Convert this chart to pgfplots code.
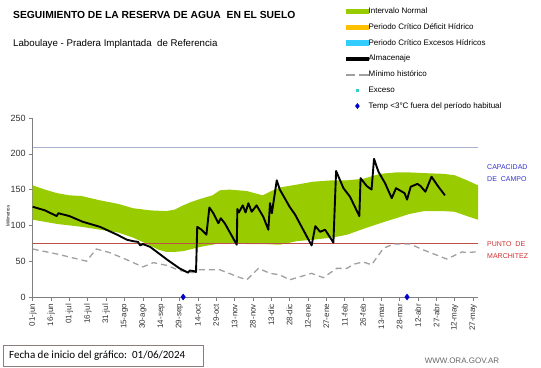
\documentclass[border=0pt]{standalone}
\usepackage{pgfplots}
\pgfplotsset{compat=1.18}
\usepackage{fontspec}
\setmainfont{Liberation Sans}
\newfontfamily\calibri{Carlito}
\definecolor{bandgreen}{HTML}{99CC00}
\definecolor{deficit}{HTML}{FFC000}
\definecolor{excesos}{HTML}{33CCFF}
\definecolor{capline}{HTML}{A4B4CE}
\definecolor{pmline}{HTML}{C0504D}
\definecolor{mingray}{HTML}{A0A0A0}
\definecolor{axisgray}{HTML}{7F7F7F}
\definecolor{capblue}{HTML}{3333CC}
\definecolor{pmred}{HTML}{D03030}
\definecolor{diamondblue}{HTML}{0000CC}
\definecolor{excesocyan}{HTML}{33CCCC}
\definecolor{boxborder}{HTML}{8C7C7C}
\begin{document}
\begin{tikzpicture}
\useasboundingbox (0bp,0bp) rectangle (541bp,368bp);
\begin{axis}[
  at={(32.7bp,71bp)}, anchor=south west,
  scale only axis, width=445.3bp, height=179bp,
  xmin=0, xmax=364, ymin=0, ymax=250,
  clip=false,
  axis lines=left,
  axis line style={-, draw=axisgray, line width=0.8bp},
  tick align=outside,
  major tick length=3.5bp,
  tick style={draw=axisgray, line width=0.6bp},
  ytick={0,50,...,250},
  xtick={0,15,...,360},
  xticklabels={01-jun,16-jun,01-jul,16-jul,31-jul,15-ago,30-ago,14-sep,29-sep,14-oct,29-oct,13-nov,28-nov,13-dic,28-dic,12-ene,27-ene,11-feb,26-feb,13-mar,28-mar,12-abr,27-abr,12-may,27-may},
  /pgf/number format/assume math mode=true,
  yticklabel style={font=\fontsize{9bp}{10bp}\selectfont, color=black!80},
  xticklabel style={rotate=90, anchor=east, font=\fontsize{8bp}{9bp}\selectfont, color=black!80},
  legend style={at={(axis description cs:0.7036,1.617)}, anchor=north west,
    draw=none, fill=none, inner sep=0pt, row sep=8.8bp,
    font=\fontsize{8bp}{9bp}\selectfont,
    nodes={inner sep=0pt, text height=5.8bp, text depth=1.2bp},
    /tikz/every even column/.append style={column sep=3bp}},
  legend cell align=left,
]
% band
\addplot[fill=bandgreen, draw=none, forget plot] coordinates {
(0,156) (10,150) (20,145) (30,142) (40,141) (55,135) (70,130) (82,124) (96,121) (109,120) (116,122) (123,128) (130,133) (137,137) (147,142) (153,149) (161,150) (175,148) (188,142) (195,148) (202,153) (216,157) (229,161) (245,163) (257,163) (270,165) (284,172) (297,174) (308,174) (320,173) (336,172) (345,170) (355,163) (364,156)
(364,108) (355,113) (345,119) (336,120) (320,120) (308,116) (297,110) (284,103) (270,95) (257,87) (245,83) (229,80) (216,78) (202,73) (188,74) (175,74) (161,75) (153,75) (147,73) (137,70) (130,67) (123,64) (116,63) (109,63) (103,66) (96,72) (82,83) (70,90) (55,94) (40,98) (30,100) (20,102) (10,105) (0,108)
} -- cycle;
% capacidad de campo
\addplot[capline, line width=1.4bp, forget plot] coordinates {(0,209) (364,209)};
% punto de marchitez
\addplot[pmline, line width=0.8bp, forget plot] coordinates {(0,75) (364,75)};
% minimo historico
\addplot[mingray, line width=1.3bp, dash pattern=on 6bp off 4bp, forget plot] coordinates {
(0,67) (20,60) (44,50) (52,67) (63,62) (77,52) (90,42) (98.6,48) (110,44) (120,37) (131,34) (135,38) (153,38) (168,28) (175,24) (184.5,40) (194,33) (202,31) (210,24) (220,29) (228,33) (237.6,27) (248.5,40) (256.7,40) (263,46) (270,49) (277,45) (286.7,68) (295,74) (308.5,74) (319,66) (338.5,53) (351,63) (355,62) (362,63)
};
% almacenaje
\addplot[black, line width=1.9bp, line join=round, forget plot] coordinates {
(0,126) (10,121) (19.6,113) (21,117) (30,113) (41,105) (55,98) (69,87) (77,80) (82,78) (86,77) (88,72) (90,74) (96,70) (110,52) (120,40) (127,34) (128.5,37) (132,36) (133.5,35) (134.5,98) (138,94) (142,87) (144.4,125) (147.7,117) (151.8,103) (153.7,110) (157,103) (166.8,73) (167.3,123) (168.5,118) (171.7,128) (174,118) (176.3,131) (179,119) (183,128) (188.5,112) (192.6,94) (194,131) (195.5,117) (199.5,163) (202,150) (210,126) (214.5,115) (228,72) (231,99) (235,91) (239,94) (245.8,76) (248,176) (254,152) (259.4,140) (267,113) (268,166) (273,155) (277,150) (279,193) (282.6,175) (288,159) (293.5,138) (297,152) (300,149) (304,145) (306,136) (309,154) (314.5,158) (317,155) (321,147) (326,168) (331.6,154) (337,142)
};
% temp < 3
\addplot[only marks, mark=diamond*, mark size=3bp, color=diamondblue, forget plot] coordinates {(123,0) (306,0)};
% legend
\addlegendimage{legend image code/.code={\fill[bandgreen] (0bp,-2.2bp) rectangle (22bp,2.2bp);}}
\addlegendentry{Intervalo Normal}
\addlegendimage{legend image code/.code={\fill[deficit] (0bp,-2.2bp) rectangle (22bp,2.2bp);}}
\addlegendentry{Periodo Crítico Déficit Hídrico}
\addlegendimage{legend image code/.code={\fill[excesos] (0bp,-2.2bp) rectangle (22bp,2.2bp);}}
\addlegendentry{Periodo Crítico Excesos Hídricos}
\addlegendimage{legend image code/.code={\fill[black] (0bp,-1.1bp) rectangle (22bp,1.1bp);}}
\addlegendentry{Almacenaje}
\addlegendimage{legend image code/.code={\fill[mingray] (0bp,-0.7bp) rectangle (8bp,0.7bp); \fill[mingray] (13bp,-0.7bp) rectangle (22bp,0.7bp);}}
\addlegendentry{Mínimo histórico}
\addlegendimage{legend image code/.code={\fill[white, opacity=0] (0bp,-0.5bp) rectangle (22bp,0.5bp); \fill[excesocyan] (9.8bp,-1.2bp) rectangle (12.2bp,1.2bp);}}
\addlegendentry{Exceso}
\addlegendimage{legend image code/.code={\fill[white, opacity=0] (0bp,-0.5bp) rectangle (22bp,0.5bp); \fill[diamondblue] (11bp,2.6bp) -- (13bp,0bp) -- (11bp,-2.6bp) -- (9bp,0bp) -- cycle;}}
\addlegendentry{Temp <3°C fuera del período habitual}
\end{axis}
% titles
\node[anchor=west, inner sep=0pt, font=\fontsize{10.3bp}{12bp}\selectfont\bfseries] at (13bp,353bp) {SEGUIMIENTO DE LA RESERVA DE AGUA\ \ EN EL SUELO};
\node[anchor=west, inner sep=0pt, font=\fontsize{9.7bp}{12bp}\selectfont] at (13bp,324bp) {Laboulaye - Pradera Implantada\ \ de Referencia};
% y label
\node[rotate=90, inner sep=0pt, font=\fontsize{4.5bp}{5bp}\selectfont] at (8bp,152bp) {Milímetros};
% right labels
\node[anchor=north west, align=left, inner sep=0pt, text=capblue, font=\fontsize{7bp}{12bp}\selectfont] at (487bp,204bp) {CAPACIDAD\\DE\ \ CAMPO};
\node[anchor=north west, align=left, inner sep=0pt, text=pmred, font=\fontsize{7bp}{12bp}\selectfont] at (487bp,127bp) {PUNTO\ \ DE\\MARCHITEZ};
% footer
\draw[boxborder, line width=0.8bp] (3bp,2bp) rectangle (203bp,23bp);
\node[anchor=west, inner sep=0pt, font=\calibri\fontsize{11bp}{12bp}\selectfont] at (9bp,12.5bp) {Fecha de inicio del gráfico:\ \ 01/06/2024};
\node[inner sep=0pt, text=black!60, font=\fontsize{8bp}{9bp}\selectfont] at (462bp,7bp) {WWW.ORA.GOV.AR};
\end{tikzpicture}
\end{document}
